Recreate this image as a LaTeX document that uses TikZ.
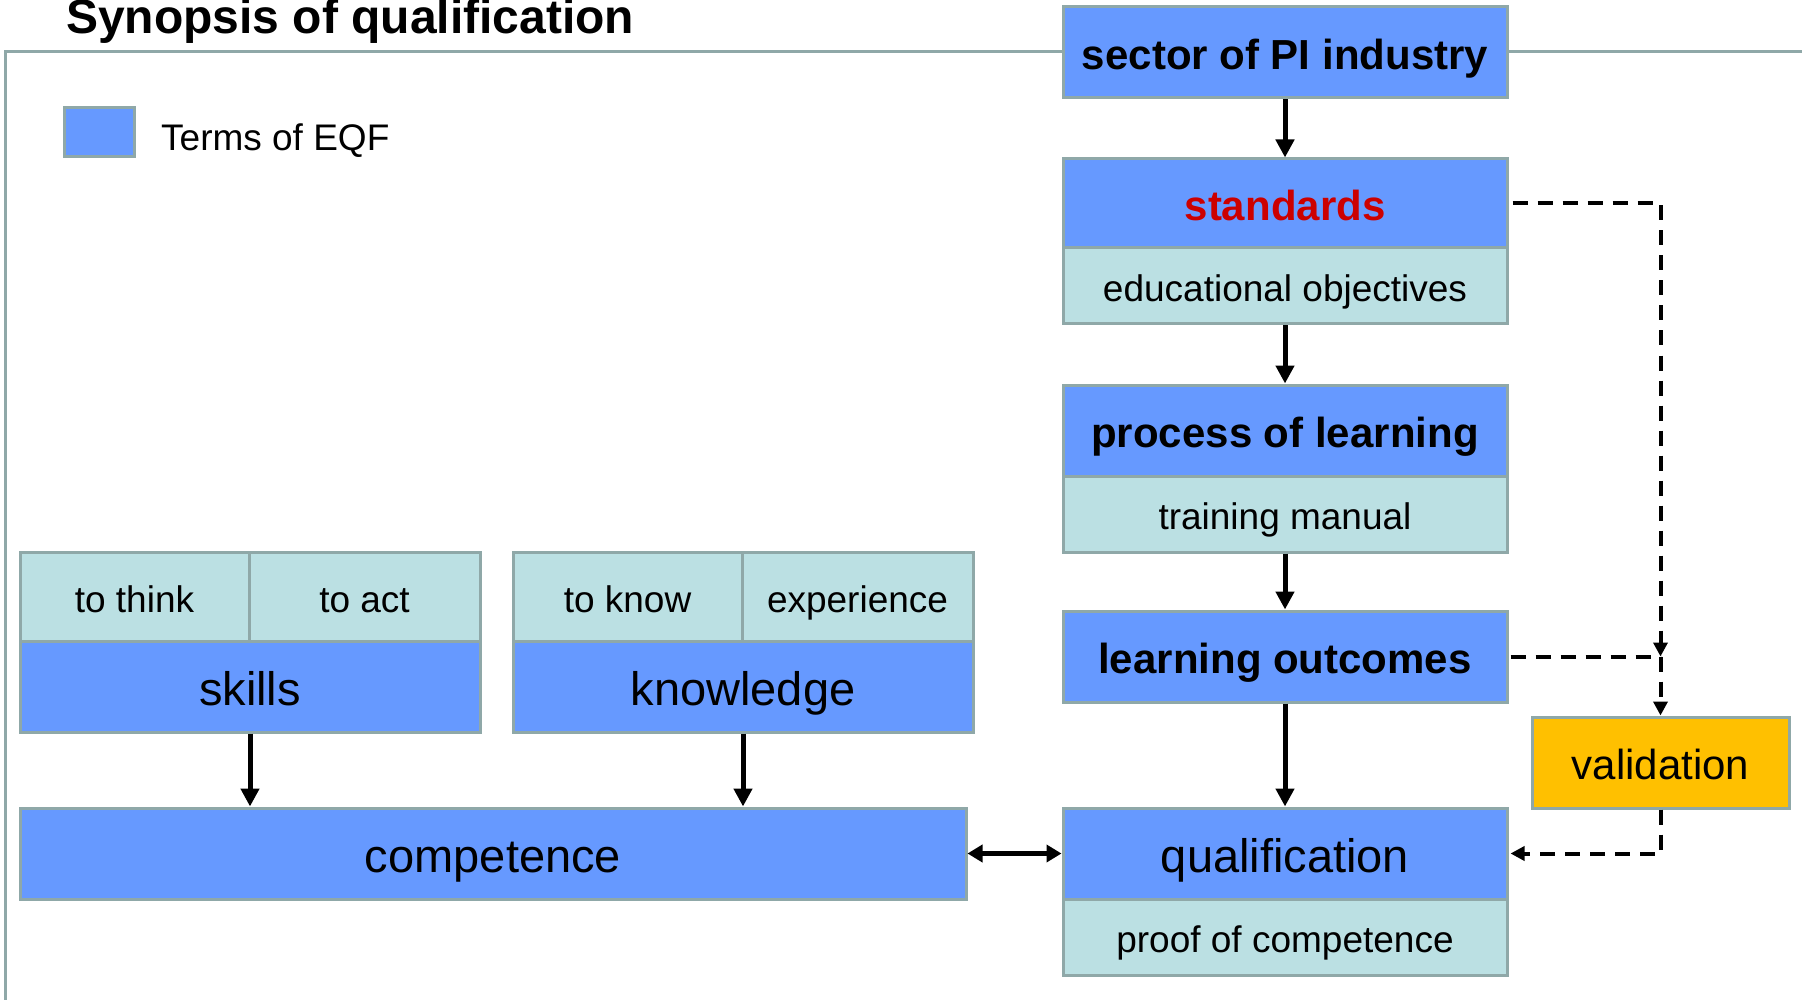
\documentclass[tikz,border=0pt]{standalone}
\usepackage{fontspec}
\setmainfont{Liberation Sans}
\usetikzlibrary{arrows.meta}
\definecolor{eqfblue}{RGB}{102,153,255}
\definecolor{lightbox}{RGB}{187,224,227}
\definecolor{edgecol}{RGB}{143,168,168}
\definecolor{valcol}{RGB}{255,192,0}
\definecolor{redtxt}{RGB}{204,0,0}
\tikzset{
  box/.style={draw=edgecol, line width=3pt, inner sep=0pt, align=center},
  bluebox/.style={box, fill=eqfblue},
  lightcell/.style={box, fill=lightbox, font=\fontsize{37}{40}\selectfont, text height=31pt, text depth=0pt},
  bigbold/.style={font=\fontsize{42}{45}\selectfont\bfseries, text height=34pt, text depth=0pt},
  bigreg/.style={font=\fontsize{47}{50}\selectfont, text height=38.5pt, text depth=0pt},
  flow/.style={line width=5pt, -{Triangle[length=18pt,width=18pt]}},
  dflow/.style={line width=4pt, dash pattern=on 15pt off 10pt, -{Triangle[length=14pt,width=14pt]}},
  dline/.style={line width=4pt, dash pattern=on 15pt off 10pt},
}
\begin{document}
\begin{tikzpicture}[x=1pt,y=-1pt]
\useasboundingbox (0,0) rectangle (1802,1000);
% frame
\draw[edgecol, line width=3pt] (5,1000) -- (5,52) -- (1802,52);
% title
\node[anchor=base west, inner sep=0pt, font=\fontsize{48}{50}\selectfont\bfseries] (title) at (66,34) {Synopsis of qualification};
% legend
\node[box, fill=eqfblue, minimum width=70pt, minimum height=49pt] (legbox) at (99,132.5) {};
\node[anchor=west, inner sep=0pt, font=\fontsize{37}{40}\selectfont, text height=27pt, text depth=0pt] (legtext) at (161,137) {Terms of EQF};
% right column
\node[bluebox, bigbold, minimum width=444pt, minimum height=91pt] (sector) at (1285,52.5) {sector of PI industry};
\node[bluebox, bigbold, text=redtxt, minimum width=444pt, minimum height=89pt] (std) at (1285,203.5) {standards};
\node[lightcell, minimum width=444pt, minimum height=76pt] (edu) at (1285,286) {educational objectives};
\node[bluebox, bigbold, minimum width=444pt, minimum height=91pt] (proc) at (1285,430.5) {process of learning};
\node[lightcell, minimum width=444pt, minimum height=76pt] (train) at (1285,514) {training manual};
\node[bluebox, bigbold, minimum width=444pt, minimum height=91pt] (lo) at (1285,656.5) {learning outcomes};
\node[bluebox, bigreg, minimum width=444pt, minimum height=91pt] (qual) at (1285,853.5) {qualification};
\node[lightcell, minimum width=444pt, minimum height=76pt] (proof) at (1285,937) {proof of competence};
\node[box, fill=valcol, font=\fontsize{42}{45}\selectfont, text height=34pt, text depth=0pt, minimum width=257pt, minimum height=91pt] (val) at (1660.5,762.5) {validation};
% left groups
\node[lightcell, minimum width=229pt, minimum height=89pt] (think) at (134.5,596.5) {to think};
\node[lightcell, minimum width=231pt, minimum height=89pt] (act) at (364.5,596.5) {to act};
\node[bluebox, bigreg, minimum width=460pt, minimum height=91pt] (skills) at (250,686.5) {skills};
\node[lightcell, minimum width=229pt, minimum height=89pt] (know) at (627.5,596.5) {to know};
\node[lightcell, minimum width=231pt, minimum height=89pt] (exper) at (857.5,596.5) {experience};
\node[bluebox, bigreg, minimum width=460pt, minimum height=91pt] (knowl) at (743,686.5) {knowledge};
\node[bluebox, bigreg, minimum width=946pt, minimum height=91pt] (comp) at (493,853.5) {competence};
% solid arrows
\draw[flow] (sector.south) -- (std.north);
\draw[flow] (edu.south) -- (proc.north);
\draw[flow] (train.south) -- (lo.north);
\draw[flow] (lo.south) -- (qual.north);
\draw[flow] (skills.south) -- (skills.south |- comp.north);
\draw[flow] (knowl.south) -- (knowl.south |- comp.north);
\draw[line width=5pt, {Triangle[length=15pt,width=17pt]}-{Triangle[length=15pt,width=17pt]}] (comp.east) -- (qual.west);
% dashed connectors
\coordinate (junc) at (val.north |- lo.east);
\draw[dflow] ([xshift=4pt]std.east) -- (val.north |- std.east) -- (junc);
\draw[dline] ([xshift=2pt]lo.east) -- (junc);
\draw[dflow] (junc) -- (val.north);
\draw[dflow] (val.south) -- (val.south |- qual.east) -- ([xshift=2pt]qual.east);
\end{tikzpicture}
\end{document}
